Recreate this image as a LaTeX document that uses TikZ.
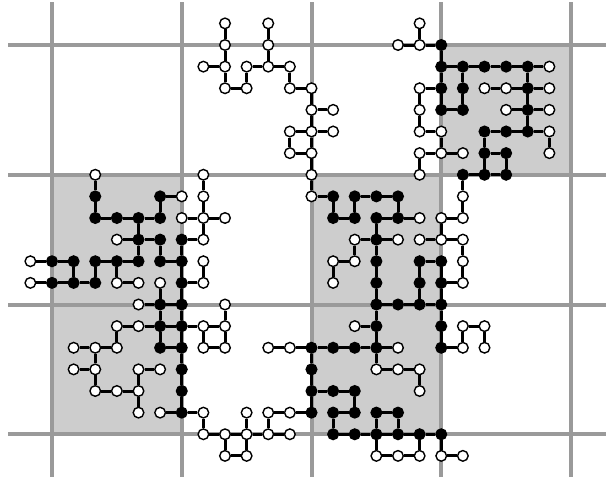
\documentclass[tikz,border=0pt]{standalone}
\definecolor{gridgray}{HTML}{9A9A9A}
\definecolor{cellgray}{HTML}{CDCDCD}
\tikzset{
  gridline/.style={line width=4pt, draw=gridgray},
  cellshade/.style={fill=cellgray, draw=none},
  wnode/.style={circle, draw=black, fill=white, line width=1.4pt, minimum size=10.6pt, inner sep=0pt},
  bnode/.style={wnode, fill=black},
  bond/.style={line width=3pt, draw=black},
}
\begin{document}
\begin{tikzpicture}[x=1pt,y=-1pt]
\useasboundingbox (0,0) rectangle (606,485);
% shaded cells
\foreach \xa/\ya in {441.25/45, 52/174.75, 311.5/174.75, 52/304.5, 311.5/304.5}
  \fill[cellshade] (\xa,\ya) rectangle ++(129.75,129.75);
% coarse grid
\foreach \gx in {52,181.75,311.5,441.25,571}
  \draw[gridline] (\gx,2) -- (\gx,477);
\foreach \gy in {45,174.75,304.5,434.25}
  \draw[gridline] (8,\gy) -- (606,\gy);
% black sites
\foreach \i/\j in {18/0,18/1,19/1,20/1,21/1,22/1,18/2,19/2,22/2,18/3,19/3,22/3,20/4,21/4,22/4,20/5,21/5,19/6,20/6,21/6,
  2/7,5/7,2/8,3/8,4/8,5/8,4/9,5/9,6/9,0/10,1/10,2/10,3/10,4/10,5/10,6/10,0/11,1/11,2/11,6/11,5/12,6/12,
  5/13,6/13,5/14,6/14,6/15,6/16,6/17,
  13/7,14/7,15/7,16/7,13/8,14/8,15/8,16/8,15/9,15/10,15/11,17/10,18/10,17/11,18/11,15/12,16/12,17/12,18/12,
  15/13,18/13,18/14,12/14,13/14,14/14,15/14,12/15,12/16,13/16,14/16,12/17,13/17,14/17,15/17,16/17,
  13/18,14/18,15/18,16/18,17/18,18/18}
  \node[bnode] (v\i_\j) at ({52+21.625*\i},{45+21.625*\j}) {};
% white sites
\foreach \i/\j in {8/-1,10/-1,8/0,10/0,7/1,8/1,9/1,10/1,11/1,8/2,9/2,11/2,12/2,12/3,13/3,11/4,12/4,13/4,11/5,12/5,12/6,12/7,
  17/-1,16/0,17/0,23/1,17/2,20/2,21/2,23/2,17/3,21/3,23/3,17/4,18/4,23/4,17/5,18/5,19/5,23/5,17/6,
  19/7,17/8,18/8,19/8,14/9,16/9,17/9,18/9,19/9,13/10,14/10,19/10,13/11,19/11,
  2/6,7/6,6/7,7/7,6/8,7/8,8/8,3/9,7/9,-1/10,7/10,-1/11,3/11,4/11,5/11,7/11,4/12,8/12,
  3/13,4/13,7/13,8/13,1/14,2/14,3/14,7/14,8/14,1/15,2/15,4/15,5/15,2/16,3/16,4/16,4/17,5/17,7/17,7/18,
  10/14,11/14,14/13,16/14,15/15,16/15,17/15,17/16,9/17,10/17,11/17,8/18,9/18,10/18,11/18,8/19,9/19,
  15/19,16/19,17/19,18/19,19/19,19/13,20/13,19/14,20/14}
  \node[wnode] (v\i_\j) at ({52+21.625*\i},{45+21.625*\j}) {};
% bonds
\foreach \a/\b/\c/\d in {
  8/-1/8/0, 8/0/8/1, 7/1/8/1, 8/1/8/2, 8/2/9/2, 9/2/9/1, 9/1/10/1, 10/1/10/0, 10/0/10/-1, 10/1/11/1, 11/1/11/2,
  11/2/12/2, 12/2/12/3, 12/3/13/3, 12/3/12/4, 12/4/13/4, 11/4/12/4, 11/4/11/5, 11/5/12/5, 12/4/12/5, 12/5/12/6,
  12/6/12/7, 12/7/13/7,
  17/-1/17/0, 16/0/17/0, 17/0/18/0, 18/0/18/1, 18/1/19/1, 19/1/20/1, 20/1/21/1, 21/1/22/1, 22/1/23/1,
  19/1/19/2, 19/2/19/3, 18/3/19/3, 18/2/18/3, 17/2/18/2, 18/1/18/2, 20/2/21/2, 21/2/22/2, 22/2/23/2,
  22/1/22/2, 22/2/22/3, 22/3/22/4, 21/3/22/3, 22/3/23/3, 20/4/21/4, 21/4/22/4, 22/4/23/4, 23/4/23/5,
  20/4/20/5, 20/5/21/5, 20/5/20/6, 21/5/21/6, 19/6/20/6, 20/6/21/6, 19/6/19/7, 19/7/19/8, 18/8/19/8,
  18/8/18/9, 17/9/18/9, 18/9/19/9, 19/9/19/10, 19/10/19/11, 18/11/19/11,
  17/2/17/3, 17/3/17/4, 17/4/18/4, 18/4/18/5, 17/5/18/5, 18/5/19/5, 17/5/17/6,
  13/7/13/8, 13/8/14/8, 14/7/14/8, 14/7/15/7, 15/7/16/7, 16/7/16/8, 15/8/16/8, 16/8/17/8, 15/8/15/9,
  14/9/15/9, 15/9/16/9, 14/9/14/10, 13/10/14/10, 13/10/13/11, 15/9/15/10, 15/10/15/11, 15/11/15/12,
  15/12/16/12, 16/12/17/12, 17/12/18/12, 17/10/18/10, 17/10/17/11, 17/11/17/12, 18/10/18/11, 18/11/18/12,
  18/12/18/13, 18/13/18/14, 18/14/19/14, 19/13/19/14, 19/13/20/13, 20/13/20/14, 15/12/15/13, 14/13/15/13,
  15/13/15/14, 15/14/16/14,
  7/13/8/13, 8/12/8/13, 7/13/7/14, 7/14/8/14, 8/13/8/14, 6/13/7/13,
  10/14/11/14, 11/14/12/14, 12/14/13/14, 13/14/14/14, 14/14/15/14, 12/14/12/15, 12/15/12/16, 12/16/13/16,
  13/16/14/16, 14/16/14/17, 12/16/12/17, 11/17/12/17, 10/17/11/17, 13/17/14/17, 13/17/13/18, 13/18/14/18,
  14/18/15/18, 15/18/16/18, 16/18/17/18, 17/18/18/18, 15/17/15/18, 15/17/16/17, 16/17/16/18,
  15/14/15/15, 15/15/16/15, 16/15/17/15, 17/15/17/16, 15/18/15/19, 15/19/16/19, 16/19/17/19, 17/18/17/19,
  18/18/18/19, 18/19/19/19,
  7/17/7/18, 6/17/7/17, 7/18/8/18, 8/18/9/18, 9/18/10/18, 10/18/11/18, 9/17/9/18, 10/17/10/18,
  8/18/8/19, 8/19/9/19, 9/19/9/18,
  2/6/2/7, 2/7/2/8, 2/8/3/8, 3/8/4/8, 4/8/5/8, 5/7/5/8, 5/7/6/7, 6/8/7/8, 7/6/7/7, 7/7/7/8, 7/8/8/8,
  7/8/7/9, 6/9/7/9, 3/9/4/9, 4/9/5/9, 4/8/4/9, 4/9/4/10, 5/9/5/10, 6/9/6/10, 5/10/6/10,
  -1/10/0/10, 0/10/1/10, 2/10/3/10, 3/10/4/10, 1/10/1/11, 2/10/2/11, 3/10/3/11, 3/11/4/11,
  -1/11/0/11, 0/11/1/11, 1/11/2/11, 6/10/6/11, 6/11/7/11, 7/10/7/11, 5/11/5/12, 6/11/6/12,
  4/12/5/12, 5/12/6/12, 5/12/5/13, 6/12/6/13,
  3/13/4/13, 4/13/5/13, 5/13/6/13, 3/13/3/14, 1/14/2/14, 2/14/3/14, 5/13/5/14, 5/14/6/14, 6/13/6/14,
  2/14/2/15, 1/15/2/15, 2/15/2/16, 2/16/3/16, 3/16/4/16, 4/15/4/16, 4/15/5/15, 4/16/4/17,
  6/14/6/15, 6/15/6/16, 6/16/6/17, 5/17/6/17}
  \draw[bond] (v\a_\b) -- (v\c_\d);
\end{tikzpicture}
\end{document}
